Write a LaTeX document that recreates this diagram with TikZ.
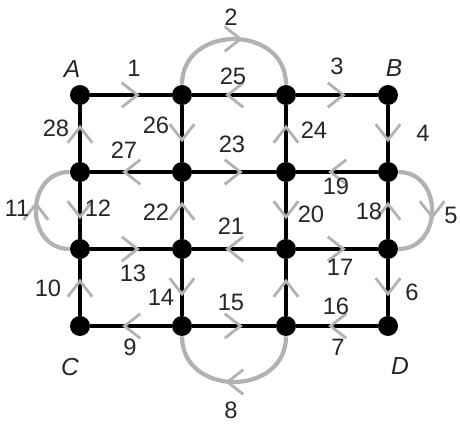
\documentclass[tikz,border=0pt]{standalone}
\usepackage{fontspec}
\setmainfont{Liberation Sans}
\usetikzlibrary{arrows.meta,decorations.markings}
\definecolor{ecgray}{HTML}{B2B2B2}
\definecolor{ecink}{HTML}{262626}
\tikzset{
  ecdot/.style ={circle, fill=black, inner sep=0pt, minimum size=0.4cm},
  ecflow/.style={postaction={decorate},
                 decoration={markings, mark=at position 0.5 with
                 {\arrow[xshift=5pt, color=ecgray]{Straight Barb[length=9pt,width=14pt,line width=1.6pt]}}}},
  ecedge/.style={draw=black, line width=2.2pt, ecflow},
  ecloop/.style={draw=ecgray, line width=2.4pt, ecflow, looseness=1.5},
  ecnum/.style ={font=\fontsize{13.5}{15}\selectfont, text=ecink, inner sep=1pt},
  ecname/.style={font=\fontsize{14}{16}\selectfont\itshape, text=ecink, inner sep=1pt},
}
\begin{document}
\begin{tikzpicture}[x=0.02cm, y=-0.02cm]
  \useasboundingbox (0,0) rectangle (460,426);
  % grid vertices
  \node[ecdot] (v11) at (80,95)   {};
  \node[ecdot] (v12) at (182,95)  {};
  \node[ecdot] (v13) at (286,95)  {};
  \node[ecdot] (v14) at (388,95)  {};
  \node[ecdot] (v21) at (80,172)  {};
  \node[ecdot] (v22) at (182,172) {};
  \node[ecdot] (v23) at (286,172) {};
  \node[ecdot] (v24) at (388,172) {};
  \node[ecdot] (v31) at (80,249)  {};
  \node[ecdot] (v32) at (182,249) {};
  \node[ecdot] (v33) at (286,249) {};
  \node[ecdot] (v34) at (388,249) {};
  \node[ecdot] (v41) at (80,326)  {};
  \node[ecdot] (v42) at (182,326) {};
  \node[ecdot] (v43) at (286,326) {};
  \node[ecdot] (v44) at (388,326) {};
  % corner names
  \node[ecname] (nA) at (72,69)   {A};
  \node[ecname] (nB) at (394,68)  {B};
  \node[ecname] (nC) at (70,367)  {C};
  \node[ecname] (nD) at (400,366) {D};
  % grid edges, in walking direction
  \foreach \s/\t in {v11/v12, v13/v12, v13/v14, v22/v21, v22/v23, v24/v23,
                     v31/v32, v33/v32, v33/v34, v42/v41, v42/v43, v44/v43,
                     v21/v11, v21/v31, v41/v31, v12/v22, v32/v22, v32/v42,
                     v23/v13, v23/v33, v43/v33, v14/v24, v34/v24, v34/v44}
    {\draw[ecedge] (\s) -- (\t);}
  % doubled edges
  \draw[ecloop] (v12) to[out=90,in=90]   (v13);
  \draw[ecloop] (v24) to[out=0,in=0]     (v34);
  \draw[ecloop] (v43) to[out=-90,in=-90] (v42);
  \draw[ecloop] (v31) to[out=180,in=180] (v21);
  % step numbers
  \foreach \n/\x/\y in {1/134/68, 2/231/17, 3/337/66, 4/423/133, 5/451/215,
                        6/412/292, 7/338/347, 8/231/410, 9/130/347, 10/48/288,
                        11/17/208, 12/98/208, 13/133/273, 14/161/297, 15/231/302,
                        16/336/306, 17/340/267, 18/369/211, 19/336/186, 20/311/214,
                        21/231/226, 22/156/212, 23/232/144, 24/314/130, 25/233/76,
                        26/156/125, 27/124/150, 28/56/128}
    {\node[ecnum] (l\n) at (\x,\y) {\n};}
\end{tikzpicture}
\end{document}
